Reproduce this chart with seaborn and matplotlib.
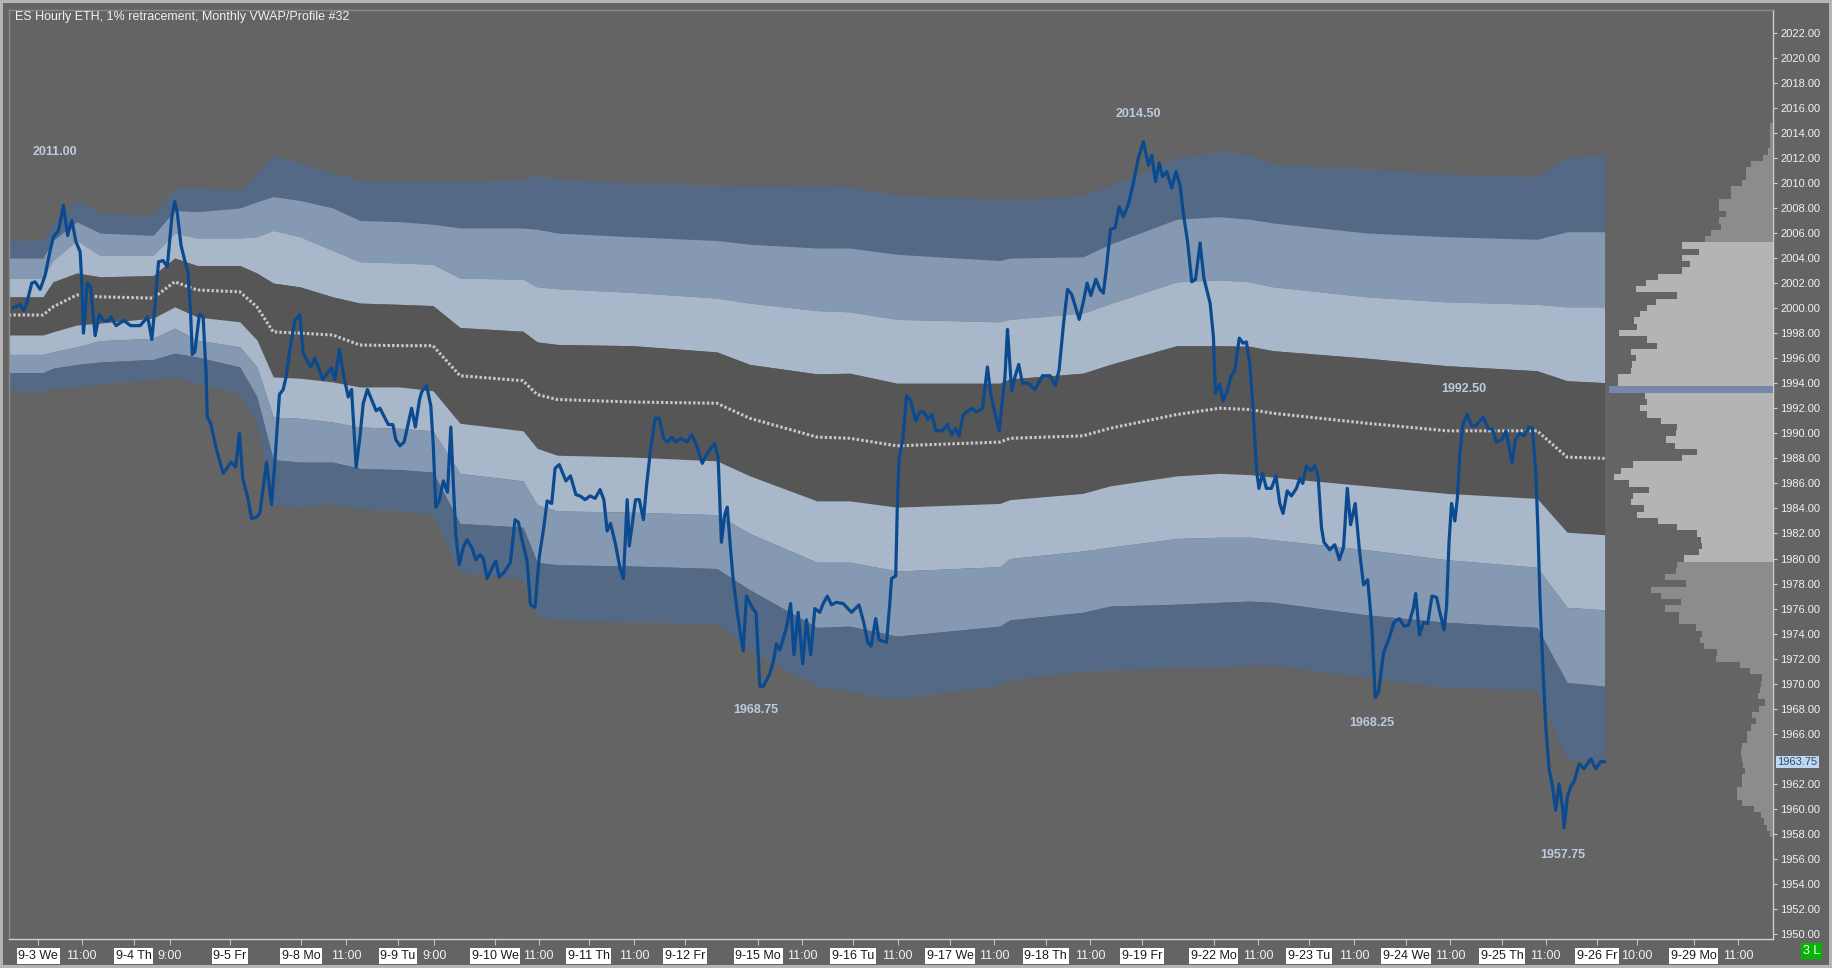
import matplotlib
matplotlib.use("Agg")
import matplotlib.pyplot as plt
import matplotlib.transforms as mtransforms
import numpy as np
import seaborn as sns

# hourly closes: bar number since the start of the chart, price
bars = [0.0, 1.7, 2.6, 3.3, 4.5, 5.3, 6.5, 7.7, 8.9, 9.7, 10.9, 12.1, 13.1, 14.1, 15.1, 16.1, 16.5, 16.9,
        17.3, 17.8, 18.6, 19.7, 20.7, 21.7, 22.9, 23.5, 24.7, 26.6, 28.2, 30.5, 32.3, 33.3, 33.8, 34.9,
        36.0, 37.0, 38.1, 38.8, 39.4, 40.3, 41.2, 42.0, 42.6, 43.0, 43.6, 44.7, 45.6, 46.3, 46.6, 47.4,
        48.8, 50.4, 52.3, 53.4, 54.3, 55.1, 56.4, 57.2, 58.4, 59.2, 60.8, 62.0, 62.8, 63.9, 64.8, 65.5,
        66.4, 67.6, 68.8, 69.6, 71.4, 72.4, 74.3, 75.6, 76.4, 77.2, 78.3, 79.2, 80.4, 81.2, 82.3, 83.2,
        84.0, 85.0, 87.1, 88.0, 90.0, 91.1, 91.8, 92.8, 93.8, 94.8, 95.6, 96.5, 97.5,
        98.0, 99.2, 100.2, 100.8, 101.4, 102.2, 103.2, 104.2, 105.0, 105.6, 106.2, 107.0, 108.0, 108.9,
        110.0, 111.0, 112.0, 112.8, 113.7, 114.8, 115.8, 116.6, 118.0, 119.3, 120.4, 121.2, 122.2, 123.3,
        124.1, 125.2, 126.2, 127.3, 128.1, 129.2, 130.0, 131.0, 132.6, 133.7, 135.0, 136.0, 137.2, 138.4,
        139.6, 140.8, 141.7, 142.5, 143.3, 144.4, 145.6, 146.4, 147.3, 147.8, 149.3, 150.2, 151.2, 152.0,
        152.9, 154.0, 155.0, 156.0, 156.9, 158.0, 159.0, 160.1, 161.6, 162.8, 164.0, 165.3, 166.5, 168.3,
        169.1, 169.9, 170.7, 171.3, 172.1, 172.7, 173.7, 175.1, 175.9, 177.4, 178.2, 179.1, 179.9, 181.4,
        182.3, 183.1, 183.9, 185.5, 186.5, 187.3, 188.3, 189.4, 190.3, 191.3, 192.3,
        193.5, 194.3, 195.3, 196.3, 197.4, 199.1, 201.1, 202.9, 204.1, 205.0, 205.8, 206.9, 207.7, 209.5,
        210.3, 210.7, 211.7, 212.1, 212.5, 213.4, 214.3, 215.3, 216.5, 217.5, 218.5, 219.4, 220.4, 221.3,
        222.9, 224.1, 225.1, 226.1, 226.9, 227.9, 228.7, 229.9, 231.1, 232.5, 233.7, 234.5, 235.9, 236.5,
        237.9, 238.5, 238.9, 239.5, 240.3, 241.2, 242.1, 243.5, 245.1, 246.9, 248.7, 250.0, 250.9, 251.9,
        252.9, 253.9, 254.9, 255.7, 256.7, 257.6, 258.5, 259.7, 260.7, 261.5, 262.3, 263.2, 264.3, 265.3,
        266.3, 267.5, 268.7, 269.9, 271.1, 272.3, 273.1, 274.0, 274.9, 275.7, 276.7, 277.9, 278.9, 279.9,
        280.7, 281.7, 282.7, 283.6, 284.7, 285.6, 287.1, 287.9, 288.1, 288.4, 289.4,
        290.2, 291.0, 292.2, 293.0, 294.1, 295.0, 295.8, 296.6, 297.4, 298.2, 298.8, 299.7, 300.6, 301.8,
        302.9, 303.8, 304.6, 305.6, 306.6, 307.8, 308.6, 309.3, 310.2, 311.3, 312.2, 313.0, 313.8, 314.4,
        315.8, 317.0, 318.1, 319.1, 320.0, 320.8, 321.9, 322.9, 323.9, 324.9, 325.9, 326.7, 327.5, 328.7,
        329.9, 331.2, 332.5, 333.6, 334.7, 335.9, 336.4, 337.3, 338.3, 339.3, 340.3, 341.4, 342.2, 343.2,
        343.8, 344.4, 345.0, 345.8, 346.4, 347.0, 347.8, 348.8, 349.8, 350.8, 352.6, 353.8, 354.9, 355.7,
        357.1, 358.1, 359.5, 360.3, 361.4, 362.4, 363.6, 364.4, 365.2, 365.7, 366.2, 366.8, 367.6, 368.4,
        369.2, 370.0, 370.8, 371.6, 372.0, 372.8, 373.6, 374.4, 375.6, 376.8, 378.4, 379.6, 380.8, 381.7]
close = [2000.0, 2000.3, 1999.8, 2000.4, 2002.0, 2002.1, 2001.5, 2002.6, 2004.6, 2005.7, 2006.2, 2008.2,
         2005.8, 2007.0, 2005.3, 2004.5, 2002.0, 1998.0, 1999.6, 2002.0, 2001.7, 1997.8, 1999.5, 1999.0,
         1999.0, 1999.3, 1998.6, 1999.0, 1998.6, 1998.6, 1999.3, 1997.5, 1999.3, 2003.7, 2003.8, 2003.3,
         2007.3, 2008.5, 2007.6, 2005.0, 2003.8, 2002.8, 1999.5, 1996.3, 1996.5, 1999.5, 1999.3, 1994.8,
         1991.3, 1990.8, 1988.7, 1986.8, 1987.7, 1987.3, 1990.0, 1986.4, 1984.7, 1983.2, 1983.3, 1983.6,
         1987.7, 1984.3, 1987.7, 1993.1, 1993.5, 1994.5, 1996.7, 1999.0, 1999.5, 1996.4, 1995.3, 1996.0,
         1994.3, 1994.9, 1995.2, 1994.3, 1996.7, 1994.8, 1992.9, 1993.5, 1987.3, 1989.7, 1992.4, 1993.5,
         1991.8, 1992.0, 1990.7, 1990.7, 1989.5, 1989.0, 1989.3, 1990.8, 1992.0, 1990.5, 1992.7,
         1993.3, 1993.8, 1992.2, 1989.0, 1984.1, 1984.6, 1986.2, 1985.3, 1990.5, 1986.0, 1981.9, 1979.5,
         1980.9, 1981.5, 1980.9, 1979.9, 1980.3, 1980.0, 1978.4, 1979.2, 1979.8, 1978.5, 1979.0, 1979.7,
         1983.1, 1982.9, 1981.3, 1979.8, 1976.3, 1976.1, 1980.1, 1982.5, 1984.6, 1984.4, 1987.2, 1987.5,
         1986.2, 1986.6, 1985.1, 1985.0, 1984.7, 1985.0, 1984.8, 1985.5, 1984.7, 1982.2, 1982.8, 1981.3,
         1979.2, 1978.4, 1984.7, 1981.0, 1984.7, 1984.7, 1983.1, 1986.0, 1988.7, 1991.2, 1991.2, 1989.6,
         1989.3, 1989.7, 1989.3, 1989.6, 1989.3, 1989.9, 1989.0, 1987.6, 1988.4, 1989.2, 1988.1, 1981.3,
         1983.5, 1984.1, 1980.7, 1978.4, 1975.7, 1972.6, 1977.0, 1976.0, 1975.7, 1969.8, 1969.8, 1970.7,
         1971.7, 1973.2, 1972.7, 1974.5, 1976.4, 1972.3, 1975.7, 1971.6, 1975.1, 1972.3, 1976.0,
         1975.7, 1976.4, 1977.0, 1976.3, 1976.5, 1976.4, 1975.7, 1976.3, 1974.8, 1973.3, 1973.0, 1975.2,
         1973.5, 1973.3, 1976.5, 1978.4, 1978.6, 1984.4, 1988.0, 1989.5, 1993.0, 1992.6, 1991.0, 1991.7,
         1991.7, 1991.1, 1991.5, 1990.2, 1990.2, 1990.7, 1989.9, 1990.4, 1989.8, 1991.5, 1991.7, 1992.0,
         1991.7, 1992.0, 1995.3, 1993.1, 1991.0, 1990.2, 1994.5, 1998.3, 1996.4, 1993.4, 1994.5, 1995.5,
         1994.0, 1994.0, 1993.5, 1994.6, 1994.6, 1993.8, 1995.1, 1998.6, 2001.5, 2001.1, 2000.0, 1999.1,
         2000.5, 2002.0, 2001.0, 2002.3, 2001.5, 2001.2, 2003.4, 2006.3, 2006.4, 2008.1, 2007.3, 2008.3,
         2010.0, 2012.0, 2013.3, 2011.4, 2012.2, 2010.1, 2011.6, 2010.5, 2010.9, 2009.6, 2010.9, 2009.8,
         2007.5, 2005.3, 2002.1, 2002.3, 2005.2, 2002.4, 2000.4, 1997.7, 1995.6, 1993.2, 1993.9,
         1992.6, 1993.2, 1994.6, 1995.0, 1997.6, 1997.2, 1997.3, 1995.6, 1992.0, 1987.2, 1985.6, 1986.8,
         1985.6, 1985.6, 1986.6, 1984.4, 1983.6, 1985.4, 1985.0, 1985.6, 1986.4, 1986.0, 1987.4, 1987.0,
         1987.4, 1986.6, 1982.5, 1981.3, 1980.7, 1981.1, 1979.9, 1980.9, 1985.6, 1982.7, 1984.4, 1980.7,
         1977.9, 1978.3, 1974.5, 1968.9, 1969.3, 1972.5, 1973.5, 1974.9, 1975.2, 1974.6, 1974.7, 1976.1,
         1977.2, 1973.9, 1974.9, 1974.8, 1977.0, 1976.9, 1975.7, 1974.3, 1976.1, 1981.3, 1984.4, 1983.0,
         1984.8, 1988.4, 1990.8, 1991.5, 1990.6, 1990.6, 1991.3, 1990.4, 1990.3, 1989.3, 1989.5, 1990.2,
         1987.6, 1989.5, 1990.0, 1989.8, 1990.5, 1990.4, 1987.0, 1982.5, 1976.9, 1972.1, 1966.6, 1963.2,
         1961.8, 1959.9, 1962.0, 1960.2, 1958.5, 1961.0, 1961.8, 1962.2, 1963.6, 1963.2, 1964.0, 1963.2,
         1963.8, 1963.75]
last_price = 1963.75

# monthly VWAP and its deviation bands
band_bars = [-1.0, 7.2, 9.6, 15.3, 20.9, 33.6, 38.8, 44.1, 54.4, 58.5, 62.4, 68.8, 76.7, 83.2, 92.8,
             100.7, 107.2, 122.3, 125.7, 130.5, 148.7, 168.8, 176.7, 192.8, 200.7, 212.0, 236.7, 239.1,
             256.6, 263.1, 279.1, 289.4, 296.6, 302.2, 324.7, 343.9, 365.5, 372.7, 381.7]
band_top = [2005.4, 2005.4, 2006.8, 2008.6, 2007.6, 2007.4, 2009.6, 2009.6, 2009.4, 2010.8, 2012.2, 2011.6,
            2010.8, 2010.2, 2010.1, 2010.1, 2010.1, 2010.3, 2010.6, 2010.3, 2010.0, 2009.8, 2009.7, 2009.8,
            2009.7, 2009.0, 2008.7, 2008.6, 2009.0, 2009.8, 2012.0, 2012.5, 2012.25, 2011.5, 2011.1, 2010.7,
            2010.5, 2012.05, 2012.2]
band_up3 = [2004.0, 2004.0, 2005.4, 2006.9, 2006.0, 2005.8, 2007.8, 2007.7, 2008.0, 2008.5, 2008.9, 2008.6,
            2008.0, 2007.0, 2006.9, 2006.7, 2006.4, 2006.4, 2006.3, 2006.0, 2005.7, 2005.4, 2005.1, 2004.8,
            2004.8, 2004.3, 2003.8, 2004.0, 2004.1, 2005.1, 2007.1, 2007.3, 2007.1, 2006.8, 2006.0, 2005.7,
            2005.5, 2006.1, 2006.1]
band_up2 = [2002.4, 2002.4, 2003.8, 2005.4, 2004.2, 2004.2, 2006.0, 2005.6, 2005.6, 2005.7, 2006.2, 2005.7,
            2004.6, 2003.7, 2003.6, 2003.5, 2002.4, 2002.3, 2001.7, 2001.55, 2001.25, 2000.8, 2000.4, 1999.8,
            1999.7, 1999.1, 1998.9, 1999.1, 1999.6, 2000.35, 2002.1, 2002.25, 2002.1, 2001.7, 2000.9, 2000.5,
            2000.3, 2000.1, 2000.1]
band_up1 = [2000.9, 2000.9, 2002.1, 2002.8, 2002.5, 2002.6, 2004.0, 2003.4, 2003.4, 2002.8, 2002.0, 2001.7,
            2000.9, 2000.4, 2000.3, 2000.2, 1998.45, 1998.15, 1997.3, 1997.1, 1997.0, 1996.5, 1995.5, 1994.75,
            1994.8, 1994.0, 1994.0, 1994.35, 1994.8, 1995.5, 1997.0, 1997.0, 1996.95, 1996.6, 1996.0, 1995.4,
            1995.0, 1994.2, 1994.05]
vwap = [1999.45, 1999.45, 2000.1, 2001.05, 2000.9, 2000.8, 2002.1, 2001.45, 2001.3, 2000.1, 1998.1, 1998.0,
        1997.85, 1997.05, 1997.0, 1997.0, 1994.6, 1994.2, 1993.1, 1992.7, 1992.5, 1992.4, 1991.2, 1989.7,
        1989.6, 1989.0, 1989.3, 1989.6, 1989.8, 1990.4, 1991.5, 1992.0, 1991.9, 1991.6, 1990.8, 1990.2,
        1990.2, 1988.1, 1988.0]
band_dn1 = [1997.85, 1997.85, 1998.1, 1998.65, 1998.8, 1999.2, 2000.1, 1999.3, 1998.9, 1997.45, 1994.5, 1994.4,
            1994.1, 1993.7, 1993.7, 1993.4, 1990.8, 1990.2, 1988.8, 1988.25, 1988.1, 1987.8, 1986.6, 1984.6,
            1984.6, 1984.1, 1984.4, 1984.7, 1985.2, 1985.8, 1986.6, 1986.8, 1986.7, 1986.5, 1985.8, 1985.2,
            1984.8, 1982.1, 1981.9]
band_dn2 = [1996.3, 1996.3, 1996.5, 1996.9, 1997.4, 1997.6, 1998.4, 1997.45, 1996.9, 1995.3, 1991.3, 1991.2,
            1990.9, 1990.5, 1990.4, 1990.2, 1986.8, 1986.2, 1984.3, 1983.8, 1983.7, 1983.5, 1982.0, 1979.7,
            1979.7, 1979.0, 1979.35, 1980.0, 1980.6, 1980.9, 1981.6, 1981.7, 1981.7, 1981.5, 1980.7, 1979.9,
            1979.3, 1976.1, 1975.9]
band_dn3 = [1994.85, 1994.85, 1995.2, 1995.5, 1995.7, 1995.9, 1996.4, 1996.1, 1995.3, 1992.9, 1987.9, 1987.7,
            1987.7, 1987.2, 1987.1, 1986.9, 1982.8, 1982.5, 1979.7, 1979.5, 1979.4, 1979.2, 1977.5, 1974.5,
            1974.6, 1973.8, 1974.6, 1975.1, 1975.7, 1976.2, 1976.35, 1976.5, 1976.6, 1976.5, 1975.5, 1974.9,
            1974.5, 1970.1, 1969.8]
band_bottom = [1993.4, 1993.4, 1993.6, 1993.7, 1994.0, 1994.3, 1994.5, 1994.0, 1993.2, 1990.8, 1984.3, 1984.1,
               1984.4, 1984.0, 1983.8, 1983.5, 1978.9, 1978.35, 1975.4, 1975.1, 1974.95, 1974.8, 1972.7, 1969.8,
               1969.4, 1968.8, 1969.9, 1970.35, 1971.0, 1971.1, 1971.3, 1971.3, 1971.5, 1971.5, 1970.5, 1969.7,
               1969.5, 1964.0, 1963.8]

# monthly volume profile, 0.5 point bins from 2014.50 down to 1958.00
profile_prices = np.arange(2014.5, 1957.75, -0.5)
profile_volume = [3, 3, 3, 3, 5, 10, 22, 27, 27, 31, 42, 42, 54, 54, 47, 54, 52, 62, 68,
                  91, 74, 91, 83, 91, 115, 127, 137, 96, 117, 126, 133, 139, 136, 154, 126, 116, 142, 137,
                  141, 142, 155, 155, 164, 128, 126, 133, 126, 112, 96, 97, 107, 98, 76, 91, 140, 152, 159,
                  144, 124, 140, 142, 129, 136, 115, 96, 76, 72, 71, 74, 89,
                  96, 97, 108, 87, 122, 112, 92, 108, 94, 94, 77, 71, 73, 69, 56, 57, 33, 23, 11, 12,
                  13, 15, 8, 14, 21, 17, 22, 26, 26, 31, 32, 31, 30, 28, 31, 31, 36, 36, 31, 19, 12, 9, 6, 3]
value_area = (1980.0, 2005.0)
poc = 1993.5

# swing high / low labels
swing_bars = [10.0, 270.0, 178.2, 325.9, 348.0, 371.6]
swing_prices = [2011.00, 2014.50, 1968.75, 1968.25, 1992.50, 1957.75]
swing_high = [True, True, False, False, True, False]
swing_offset = [9, 5, 3.5, 8.5, 5, 8.5]

# time axis
tick_bars = [6.0, 16.5, 29.0, 37.6, 52.0, 69.1, 79.9, 92.3, 101.0, 115.6, 126.1, 138.1, 148.9, 161.2,
             178.7, 189.2, 201.4, 212.2, 224.8, 235.3, 247.7, 258.3, 270.7, 288.0, 298.6, 310.8, 321.6,
             334.1, 344.6, 357.1, 367.6, 379.9, 389.4, 403.1, 413.7]
tick_labels = ["9-3 We", "11:00", "9-4 Th", "9:00", "9-5 Fr", "9-8 Mo", "11:00", "9-9 Tu", "9:00",
               "9-10 We", "11:00", "9-11 Th", "11:00", "9-12 Fr", "9-15 Mo", "11:00", "9-16 Tu", "11:00",
               "9-17 We", "11:00", "9-18 Th", "11:00", "9-19 Fr", "9-22 Mo", "11:00", "9-23 Tu", "11:00",
               "9-24 We", "11:00", "9-25 Th", "11:00", "9-26 Fr", "10:00", "9-29 Mo", "11:00"]
price_ticks = [p for p in range(1950, 2023, 2) if p != 1964]

BG = "#646464"
DARK = "#565656"
LIGHT = "#a8b7c9"
MID = "#8599b2"
DEEP = "#536986"

sns.set_style("dark", {"axes.facecolor": BG, "figure.facecolor": BG})
plt.rcParams["font.family"] = ["Liberation Sans", "DejaVu Sans"]

fig = plt.figure(figsize=(18.32, 9.68), dpi=100)
fig.patch.set_edgecolor("#b4b4b4")
fig.patch.set_linewidth(3)
ax = fig.add_axes([9 / 1832, 29 / 968, 1764 / 1832, 929 / 968])
ax.set_facecolor(BG)

edges = [band_top, band_up3, band_up2, band_up1, band_dn1, band_dn2, band_dn3, band_bottom]
fills = [DEEP, MID, LIGHT, DARK, LIGHT, MID, DEEP]
for hi, lo, c in zip(edges[:-1], edges[1:], fills):
    ax.fill_between(band_bars, lo, hi, color=c, lw=0, zorder=1)

sns.lineplot(x=band_bars, y=vwap, ax=ax, color="#c8c8c8", lw=2.2, estimator=None,
             linestyle=(0, (0.8, 0.7)), dash_capstyle="butt", zorder=2)
sns.lineplot(x=bars, y=close, ax=ax, color="#0b4a8e", lw=2.3, estimator=None, sort=False, zorder=3)

for b, p, high, off in zip(swing_bars, swing_prices, swing_high, swing_offset):
    ax.annotate(f"{p:.2f}", (b, p), xytext=(0, off if high else -off), textcoords="offset points",
                ha="center", va="bottom" if high else "top", fontsize=9, fontweight="bold",
                color="#bccbe0", zorder=4)

ax.set_xlim(-0.96, 422.1)
ax.set_ylim(1949.61, 2023.81)

# volume profile hugging the price scale
prof = ax.twiny()
prof_colors = []
for p in profile_prices:
    if p == poc:
        prof_colors.append("#7587a9")
    elif value_area[0] <= p <= value_area[1]:
        prof_colors.append("#b4b4b4")
    else:
        prof_colors.append("#8c8c8c")
prof.barh(profile_prices, profile_volume, height=0.5, left=0, color=prof_colors, lw=0, zorder=1)
prof.set_xlim(max(profile_volume) / 0.093, 0)
prof.set_ylim(1949.61, 2023.81)
prof.xaxis.set_visible(False)
for s in prof.spines.values():
    s.set_visible(False)

# price scale on the right
ax.yaxis.tick_right()
ax.set_yticks(price_ticks)
ax.set_yticklabels([f"{p:.2f}" for p in price_ticks])
ax.tick_params(axis="y", which="both", right=True, left=False, direction="out", length=3, width=0.8,
               color="#d0d0d0", labelcolor="#f2f2f2", labelsize=8, pad=2)

ax.set_xticks(tick_bars)
ax.set_xticklabels(tick_labels)
ax.tick_params(axis="x", bottom=True, direction="out", length=4, width=0.8, color="#c0c0c0",
               labelsize=9, pad=4)
for lab in ax.get_xticklabels():
    if "-" in lab.get_text():
        lab.set_color("#1a1a1a")
        lab.set_bbox(dict(facecolor="white", edgecolor="none", pad=1.2))
    else:
        lab.set_color("#f2f2f2")

for name, s in ax.spines.items():
    s.set_visible(True)
    s.set_linewidth(1)
    s.set_color("#cfcfcf" if name in ("right", "bottom") else "#8a8a8a")

ax.annotate(f"{last_price:.2f}", (1.0, last_price),
            xycoords=mtransforms.blended_transform_factory(ax.transAxes, ax.transData),
            xytext=(3, 0), textcoords="offset points", ha="left", va="center", fontsize=8,
            color="#3c4a5e", bbox=dict(facecolor="#bcd8f4", edgecolor="none", pad=1.0), zorder=6)

fig.text(15 / 1832, 1 - 17 / 968, "ES Hourly ETH, 1% retracement, Monthly VWAP/Profile #32",
         fontsize=9, color="#f2f2f2", va="center", ha="left")
fig.text(1 - 12 / 1832, 1 - 951 / 968, "3 L", fontsize=9, color="white", ha="right", va="center",
         bbox=dict(facecolor="#00b800", edgecolor="none", pad=1.5))

fig.savefig("out.png", dpi=100, facecolor=fig.get_facecolor(), edgecolor=fig.patch.get_edgecolor())
